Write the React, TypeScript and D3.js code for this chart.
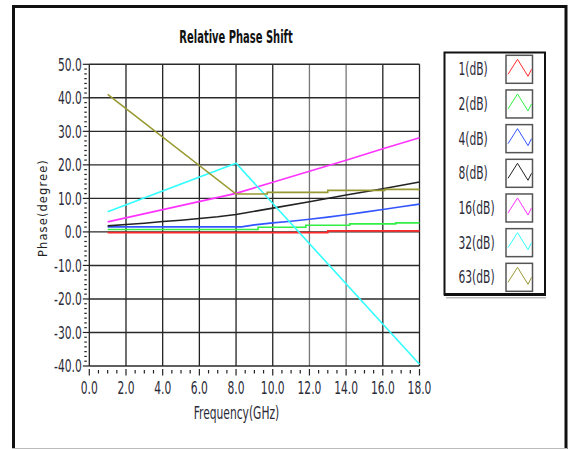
import React, { useEffect, useRef } from "react";
import * as d3 from "d3";

// frequency (GHz) vs relative phase (degree)
const xTicks = [0, 2, 4, 6, 8, 10, 12, 14, 16, 18];
const yTicks = [50, 40, 30, 20, 10, 0, -10, -20, -30, -40];
const seriesNames = ["1(dB)", "2(dB)", "4(dB)", "8(dB)", "16(dB)", "32(dB)", "63(dB)"];
const seriesColors = ["#ff2a2a", "#33ee44", "#3355ff", "#222222", "#ff33ff", "#33ffff", "#999933"];

const s1dB: [number, number][] = [[1, -0.2], [13, -0.2], [13, 0.3], [18, 0.3]];
const s2dB: [number, number][] = [[1, 0.7], [9.2, 0.7], [9.2, 1.4], [11.8, 1.4], [11.8, 2.0], [14.2, 2.0], [14.2, 2.4], [16.7, 2.4], [16.7, 2.7], [18, 2.7]];
const s4dB: [number, number][] = [[1, 1.5], [8.3, 1.5], [9, 2.1], [10, 2.7], [11, 3.2], [12, 3.8], [13, 4.4], [14, 5.1], [15, 5.9], [16, 6.7], [17, 7.5], [18, 8.3]];
const s8dB: [number, number][] = [[1, 1.8], [2, 2.2], [3, 2.6], [4, 3.1], [5, 3.5], [6, 4.0], [7, 4.5], [8, 5.2], [10, 7.1], [12, 9.0], [14, 11.0], [16, 12.9], [18, 14.9]];
const s16dB: [number, number][] = [[1, 3.0], [8, 11.5], [10, 14.8], [12, 18.1], [14, 21.4], [16, 24.8], [18, 28.1]];
const s32dB: [number, number][] = [[1, 6.0], [8, 20.5], [18, -39.5]];
const s63dB: [number, number][] = [[1, 41.0], [8, 11.3], [9.7, 11.3], [9.7, 11.8], [13, 11.8], [13, 12.4], [16.1, 12.4], [16.1, 12.7], [18, 12.7]];
const allSeries = [s1dB, s2dB, s4dB, s8dB, s16dB, s32dB, s63dB];

const W = 569;
const H = 449;
const left = 89.3, right = 419.5, top = 64.3, bottom = 366;
const narrow = "'Liberation Sans Narrow', 'DejaVu Sans Condensed', sans-serif";
// the picture's text is tall and narrow
const sx = 0.85;
const sy = 1.25;

export default function App() {
  const svgRef = useRef<SVGSVGElement>(null);

  useEffect(() => {
    const svg = d3.select(svgRef.current);
    svg.selectAll("*").remove();

    const x = d3.scaleLinear().domain([0, 18]).range([left, right]);
    const y = d3.scaleLinear().domain([-40, 50]).range([bottom, top]);
    const fmt = (v: number) => v.toFixed(1);

    // outer frame
    svg.append("path")
      .attr("d", `M13.5,449 V6.5 H566 V449`)
      .attr("fill", "none").attr("stroke", "#111").attr("stroke-width", 3);
    svg.append("line").attr("x1", 12).attr("x2", 567).attr("y1", 448.5).attr("y2", 448.5)
      .attr("stroke", "#bbb").attr("stroke-width", 1);

    const txt = (g: any, tx: number, ty: number, s: string, anchor: string, size: number, weight = "normal", fill = "#2b2b38", kx = sx) =>
      g.append("text")
        .attr("transform", `translate(${tx},${ty}) scale(${kx},${sy})`)
        .attr("text-anchor", anchor)
        .attr("font-family", narrow)
        .attr("font-size", size)
        .attr("font-weight", weight)
        .attr("fill", fill)
        .text(s);

    txt(svg, 236, 43, "Relative Phase Shift", "middle", 14, "bold", "#111", 0.79);

    // grid
    const grid = svg.append("g");
    grid.selectAll(".vg").data(xTicks).join("line").attr("class", "vg")
      .attr("x1", d => x(d)).attr("x2", d => x(d)).attr("y1", top).attr("y2", bottom)
      .attr("stroke", d => (d === 12 || d === 14 ? "#777" : "#222")).attr("stroke-width", 1.3);
    grid.selectAll(".hg").data(yTicks).join("line").attr("class", "hg")
      .attr("x1", left).attr("x2", right).attr("y1", d => y(d)).attr("y2", d => y(d))
      .attr("stroke", "#2a2a2a").attr("stroke-width", 1.4);

    // y ticks
    const yMinor = d3.range(-40, 50, 10).flatMap(v => d3.range(1, 7).map(k => v + (k * 10) / 7));
    svg.selectAll(".ymt").data(yMinor).join("line").attr("class", "ymt")
      .attr("x1", left - 5).attr("x2", left - 2.5).attr("y1", d => y(d)).attr("y2", d => y(d))
      .attr("stroke", "#222").attr("stroke-width", 1.2);
    svg.selectAll(".yt").data(yTicks).join("line").attr("class", "yt")
      .attr("x1", left - 6.5).attr("x2", left).attr("y1", d => y(d)).attr("y2", d => y(d))
      .attr("stroke", "#222").attr("stroke-width", 1.2);
    yTicks.forEach(v => txt(svg, left - 7.5, y(v) + 6.3, fmt(v), "end", 14));

    // x ticks
    const xMinor = d3.range(0, 18, 2).flatMap(v => [0.5, 1, 1.5].map(k => v + k));
    svg.selectAll(".xmt").data(xMinor).join("line").attr("class", "xmt")
      .attr("x1", d => x(d)).attr("x2", d => x(d)).attr("y1", bottom + 4).attr("y2", bottom + 7.5)
      .attr("stroke", "#222").attr("stroke-width", 1.2);
    svg.selectAll(".xt").data(xTicks).join("line").attr("class", "xt")
      .attr("x1", d => x(d)).attr("x2", d => x(d)).attr("y1", bottom + 3).attr("y2", bottom + 9.5)
      .attr("stroke", "#222").attr("stroke-width", 1.2);
    xTicks.forEach(v => txt(svg, x(v), 393.5, fmt(v), "middle", 14));

    txt(svg, 236.5, 419, "Frequency(GHz)", "middle", 14);
    svg.append("text")
      .attr("transform", `translate(46.5,208) rotate(-90)`)
      .attr("text-anchor", "middle")
      .attr("font-family", "'DejaVu Sans', sans-serif")
      .attr("font-size", 11.5)
      .attr("letter-spacing", 1.1)
      .attr("fill", "#222")
      .text("Phase(degree)");

    // series
    const line = d3.line<[number, number]>().x(d => x(d[0])).y(d => y(d[1]));
    svg.selectAll(".series").data(allSeries).join("path").attr("class", "series")
      .attr("d", d => line(d))
      .attr("fill", "none")
      .attr("stroke", (d, i) => seriesColors[i])
      .attr("stroke-width", 1.6);

    // legend
    const lg = svg.append("g");
    lg.append("rect").attr("x", 446).attr("y", 297).attr("width", 100).attr("height", 1.5).attr("fill", "#bbb");
    lg.append("rect").attr("x", 444.5).attr("y", 52.5).attr("width", 100.5).attr("height", 242)
      .attr("fill", "white").attr("stroke", "#111").attr("stroke-width", 2);
    lg.append("line").attr("x1", 444).attr("x2", 546).attr("y1", 294.5).attr("y2", 294.5)
      .attr("stroke", "#111").attr("stroke-width", 3);
    const iconLine = d3.line<[number, number]>();
    seriesNames.forEach((name, i) => {
      const cy = 69.3 + i * 34.67;
      txt(lg, 458.5, cy + 6, name, "start", 14);
      lg.append("rect").attr("x", 506).attr("y", cy - 14).attr("width", 26.5).attr("height", 28)
        .attr("fill", "white").attr("stroke", "#555").attr("stroke-width", 1.5);
      lg.append("path")
        .attr("d", iconLine([[508, cy + 5], [517.5, cy - 10], [528, cy + 7], [531.5, cy]]))
        .attr("fill", "none").attr("stroke", seriesColors[i]).attr("stroke-width", 1);
    });
  }, []);

  return (
    <svg
      ref={svgRef}
      width={W}
      height={H}
      style={{ position: "absolute", left: 0, top: 0, background: "white" }}
    />
  );
}
